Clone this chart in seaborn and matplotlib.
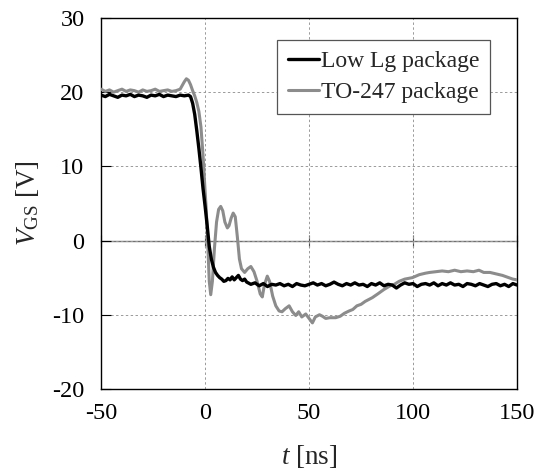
import numpy as np
import pandas as pd
import matplotlib
matplotlib.use("Agg")
import matplotlib.pyplot as plt
import seaborn as sns

# Low Lg package (black trace)
low_t = [-50, -48, -46, -44, -42, -40, -38, -36, -34, -32, -30, -28, -26, -24, -22,
         -20, -18, -16, -14, -12, -10, -8, -7, -6, -5, -4, -3, -2, -1, 0, 1, 2, 3, 4,
         5, 6, 7, 8, 9, 10, 11, 12, 13, 14, 15, 16, 17, 18, 19, 20, 22, 24, 26, 28, 30,
         32, 34, 36, 38, 40, 42, 44, 46, 48, 50, 52, 54, 56, 58, 60, 62, 64, 66, 68,
         70, 72, 74, 76, 78, 80, 82, 84, 86, 88, 90, 92, 94, 96, 98, 100, 102, 104,
         106, 108, 110, 112, 114, 116, 118, 120, 122, 124, 126, 128, 130, 132, 134,
         136, 138, 140, 142, 144, 146, 148, 150]
low_v = [19.6, 19.4, 19.7, 19.5, 19.3, 19.6, 19.5, 19.7, 19.4, 19.6, 19.5, 19.3, 19.6,
         19.5, 19.7, 19.4, 19.6, 19.5, 19.4, 19.6, 19.5, 19.6, 19.4, 18.5, 17.0, 14.8,
         12.4, 9.8, 7.0, 4.6, 2.0, -0.8, -2.5, -3.6, -4.3, -4.7, -5.0, -5.2, -5.5,
         -5.4, -5.1, -5.3, -4.9, -5.3, -5.0, -4.7, -5.2, -5.4, -5.2, -5.6, -5.9, -5.7,
         -6.1, -5.8, -6.2, -5.9, -6.0, -5.8, -6.1, -5.9, -6.2, -5.8, -6.0, -6.1, -5.9,
         -5.7, -6.0, -5.8, -6.1, -5.9, -5.6, -5.9, -6.1, -5.8, -6.0, -5.7, -6.0, -5.9,
         -6.2, -5.8, -6.0, -5.7, -6.1, -5.9, -6.0, -6.4, -6.0, -5.7, -5.9, -5.8, -6.2,
         -5.9, -5.8, -6.0, -5.7, -6.1, -5.8, -6.0, -5.7, -6.0, -5.9, -6.2, -5.8, -5.9,
         -6.1, -5.8, -6.0, -6.2, -5.9, -5.8, -6.1, -5.9, -6.2, -5.8, -6.0]

# TO-247 package (gray trace)
to_t = [-50, -48, -46, -44, -42, -40, -38, -36, -34, -32, -30, -28, -26, -24, -22, -20,
        -18, -16, -14, -12, -11, -10, -9, -8, -7, -6, -5, -4, -3, -2, -1, 0, 0.5, 1,
        1.5, 2, 2.7, 3.5, 4.5, 5.5, 6.5, 7.5, 8.5, 9.5, 10.7, 11.5, 12.5, 13.5, 14.5,
        15.5, 16.5, 17.5, 19, 20.5, 22, 23.5, 25, 26.5, 27.5, 28.5, 29.9, 31, 32.5, 34,
        35.6, 37, 38.5, 40.4, 42, 43.6, 45, 46.5, 48.4, 50, 51.6, 53, 55, 56.4, 58, 60,
        62.8, 65, 67, 69.2, 71, 73, 75, 77, 80.4, 83, 86, 89, 91, 93.3, 96, 99.7, 103,
        106, 108, 111, 114, 117, 120, 123, 126, 129, 131.7, 134, 137, 140, 143, 146,
        148, 150]
to_v = [20.4, 20.1, 20.3, 20.0, 20.2, 20.4, 20.1, 20.3, 20.2, 20.0, 20.3, 20.1, 20.2,
        20.4, 20.1, 20.2, 20.3, 20.1, 20.2, 20.4, 20.9, 21.4, 21.8, 21.6, 21.0, 20.2,
        19.5, 18.6, 17.4, 15.3, 11.5, 6.6, 4.4, 1.5, -2.0, -5.5, -7.3, -5.5, -1.0, 2.5,
        4.2, 4.6, 4.0, 2.5, 1.7, 2.0, 3.0, 3.7, 3.2, 0.5, -2.5, -3.8, -4.3, -3.8, -3.5,
        -4.2, -5.5, -7.2, -7.6, -6.0, -4.8, -5.5, -7.5, -8.8, -9.5, -9.6, -9.2, -8.8,
        -9.6, -10.1, -9.6, -10.3, -9.9, -10.5, -11.1, -10.3, -10.0, -10.2, -10.5, -10.4,
        -10.4, -10.2, -9.8, -9.5, -9.3, -8.8, -8.6, -8.2, -7.7, -7.2, -6.6, -6.1, -5.9,
        -5.5, -5.2, -5.0, -4.6, -4.4, -4.3, -4.2, -4.1, -4.2, -4.0, -4.2, -4.1, -4.2,
        -4.0, -4.3, -4.3, -4.5, -4.7, -5.0, -5.2, -5.3]

x_ticks = [-50, 0, 50, 100, 150]
y_ticks = [-20, -10, 0, 10, 20, 30]

sns.set_style("white")
plt.rcParams['font.family'] = ['Liberation Serif', 'DejaVu Serif']
plt.rcParams['mathtext.fontset'] = 'custom'
plt.rcParams['mathtext.rm'] = 'Liberation Serif'
plt.rcParams['mathtext.it'] = 'Liberation Serif:italic'
plt.rcParams['axes.unicode_minus'] = False

fig = plt.figure(figsize=(5.38, 4.72), dpi=100)
ax = fig.add_axes([0.188, 0.176, 0.773, 0.786])

sns.lineplot(x=to_t, y=to_v, ax=ax, color='#8c8c8c', lw=2.2, sort=False,
             estimator=None, label='TO-247 package', zorder=3)
sns.lineplot(x=low_t, y=low_v, ax=ax, color='black', lw=2.4, sort=False,
             estimator=None, label='Low Lg package', zorder=4)

ax.set_xlim(-50, 150)
ax.set_ylim(-20, 30)
ax.set_xticks(x_ticks)
ax.set_yticks(y_ticks)
ax.tick_params(axis='both', labelsize=17.5, colors='black')
ax.tick_params(axis='y', direction='in', length=7, width=0.8, left=True, pad=12)
ax.tick_params(axis='x', direction='in', length=0, pad=10)
ax.grid(True, color='#9a9a9a', linestyle=(0, (2.5, 2.5)), linewidth=0.7)
for s in ax.spines.values():
    s.set_color('black')
    s.set_linewidth(1.0)

# horizontal axis line through y = 0 with cross ticks (Excel style)
sec = ax.secondary_xaxis(0.4)
sec.spines['bottom'].set_color('#707070')
sec.spines['bottom'].set_linewidth(1.0)
sec.set_xticks(x_ticks)
sec.tick_params(direction='inout', length=8, width=0.8, color='#505050', labelbottom=False)

ax.set_xlabel(r'$t$ [ns]', fontsize=19.5, labelpad=14)
ax.set_ylabel(r'$V_{\mathrm{GS}}$ [V]', fontsize=19.5, labelpad=8)

handles, labels = ax.get_legend_handles_labels()
leg = ax.legend(handles[::-1], labels[::-1], loc='upper right',
                bbox_to_anchor=(0.935, 0.94), borderaxespad=0, fontsize=17,
                fancybox=False, edgecolor='#555555', framealpha=1,
                handlelength=1.3, handletextpad=0.1, borderpad=0.45,
                labelspacing=0.4)
leg.get_frame().set_linewidth(0.9)

fig.savefig('out.png', dpi=100)
